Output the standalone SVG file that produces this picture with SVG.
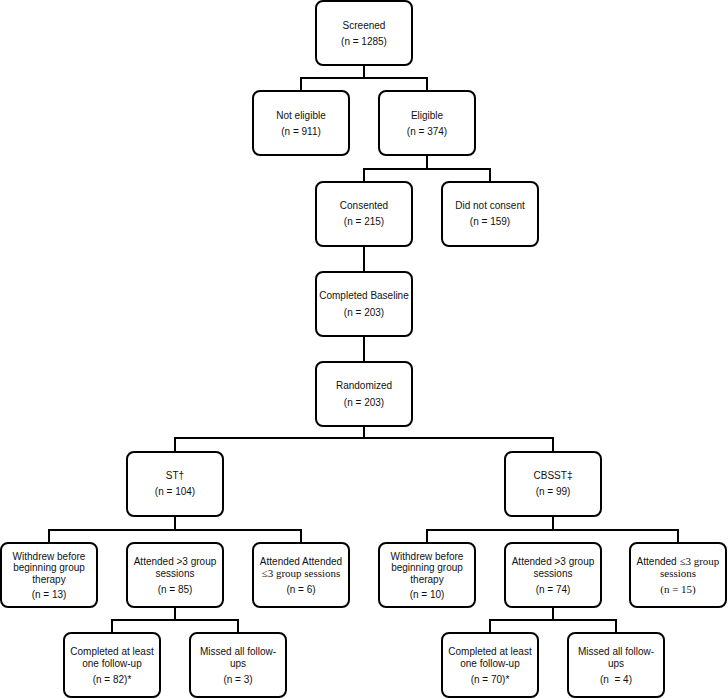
<svg xmlns="http://www.w3.org/2000/svg" width="728" height="699" viewBox="0 0 728 699">
<style>
.b{fill:#fff;stroke:#000;stroke-width:2}
.c{fill:none;stroke:#000;stroke-width:2}
text{font-family:"Liberation Sans",Arial,sans-serif;font-size:10px;fill:#111;text-anchor:middle}
.s{font-family:"Liberation Serif","Times New Roman",serif;font-size:11px}
</style>
<rect width="728" height="699" fill="#fff"/>
<g id="connectors">
<path class="c" d="M364 65V78M301 91V78H427V91"/>
<path class="c" d="M427 155V169M364 182V169H490V182"/>
<path class="c" d="M364 246V272M364 336V362"/>
<path class="c" d="M364 426V438M175 452V438H553V452"/>
<path class="c" d="M175 516V530M49 543V530H301V543"/>
<path class="c" d="M553 516V530M427 543V530H678V543"/>
<path class="c" d="M175 607V620M112 633V620H238V633"/>
<path class="c" d="M553 607V620M490 633V620H616V633"/>
</g>
<g id="screened"><rect class="b" x="316" y="1" width="96" height="64" rx="7"/><text x="364" y="28.5">Screened</text><text x="364" y="45">(n = 1285)</text></g>
<g id="not-eligible"><rect class="b" x="253" y="91" width="96" height="64" rx="7"/><text x="301" y="118.5">Not eligible</text><text x="301" y="135">(n = 911)</text></g>
<g id="eligible"><rect class="b" x="379" y="91" width="96" height="64" rx="7"/><text x="427" y="118.5">Eligible</text><text x="427" y="135">(n = 374)</text></g>
<g id="consented"><rect class="b" x="316" y="182" width="96" height="64" rx="7"/><text x="364" y="208.5">Consented</text><text x="364" y="225">(n = 215)</text></g>
<g id="did-not-consent"><rect class="b" x="442" y="182" width="96" height="64" rx="7"/><text x="490" y="208.5">Did not consent</text><text x="490" y="225">(n = 159)</text></g>
<g id="baseline"><rect class="b" x="316" y="272" width="96" height="64" rx="7"/><text x="364" y="299">Completed Baseline</text><text x="364" y="315.5">(n = 203)</text></g>
<g id="randomized"><rect class="b" x="316" y="362" width="96" height="64" rx="7"/><text x="364" y="389">Randomized</text><text x="364" y="405.5">(n = 203)</text></g>
<g id="st"><rect class="b" x="127" y="452" width="96" height="64" rx="7"/><text x="175" y="478.5">ST†</text><text x="175" y="495">(n = 104)</text></g>
<g id="cbsst"><rect class="b" x="505" y="452" width="96" height="64" rx="7"/><text x="553" y="478.5">CBSST‡</text><text x="553" y="495">(n = 99)</text></g>
<g id="st-withdrew"><rect class="b" x="1" y="543" width="96" height="64" rx="7"/><text x="49" y="559.5">Withdrew before</text><text x="49" y="570.5">beginning group</text><text x="49" y="582.5">therapy</text><text x="49" y="597.5">(n = 13)</text></g>
<g id="st-attended-more"><rect class="b" x="127" y="543" width="96" height="64" rx="7"/><text x="175" y="565">Attended &gt;3 group</text><text x="175" y="576.5">sessions</text><text x="175" y="592.5">(n = 85)</text></g>
<g id="st-attended-less"><rect class="b" x="253" y="543" width="96" height="64" rx="7"/><text x="301" y="565">Attended Attended</text><text class="s" x="301" y="577">≤3 group sessions</text><text x="301" y="592.5">(n = 6)</text></g>
<g id="cb-withdrew"><rect class="b" x="379" y="543" width="96" height="64" rx="7"/><text x="427" y="559.5">Withdrew before</text><text x="427" y="570.5">beginning group</text><text x="427" y="582.5">therapy</text><text x="427" y="597.5">(n = 10)</text></g>
<g id="cb-attended-more"><rect class="b" x="505" y="543" width="96" height="64" rx="7"/><text x="553" y="565">Attended &gt;3 group</text><text x="553" y="576.5">sessions</text><text x="553" y="592.5">(n = 74)</text></g>
<g id="cb-attended-less"><rect class="b" x="630" y="543" width="96" height="64" rx="7"/><text x="678" y="565">Attended <tspan class="s">≤3 group</tspan></text><text class="s" x="678" y="577">sessions</text><text class="s" x="678" y="593">(n = 15)</text></g>
<g id="st-completed"><rect class="b" x="64" y="633" width="96" height="64" rx="7"/><text x="112" y="655">Completed at least</text><text x="112" y="666.5">one follow-up</text><text x="112" y="682.5">(n = 82)*</text></g>
<g id="st-missed"><rect class="b" x="190" y="633" width="96" height="64" rx="7"/><text x="238" y="655">Missed all follow-</text><text x="238" y="666.5">ups</text><text x="238" y="682.5">(n = 3)</text></g>
<g id="cb-completed"><rect class="b" x="442" y="633" width="96" height="64" rx="7"/><text x="490" y="655">Completed at least</text><text x="490" y="666.5">one follow-up</text><text x="490" y="682.5">(n = 70)*</text></g>
<g id="cb-missed"><rect class="b" x="568" y="633" width="96" height="64" rx="7"/><text x="616" y="655">Missed all follow-</text><text x="616" y="666.5">ups</text><text x="616" y="682.5">(n&#160; = 4)</text></g>
</svg>
